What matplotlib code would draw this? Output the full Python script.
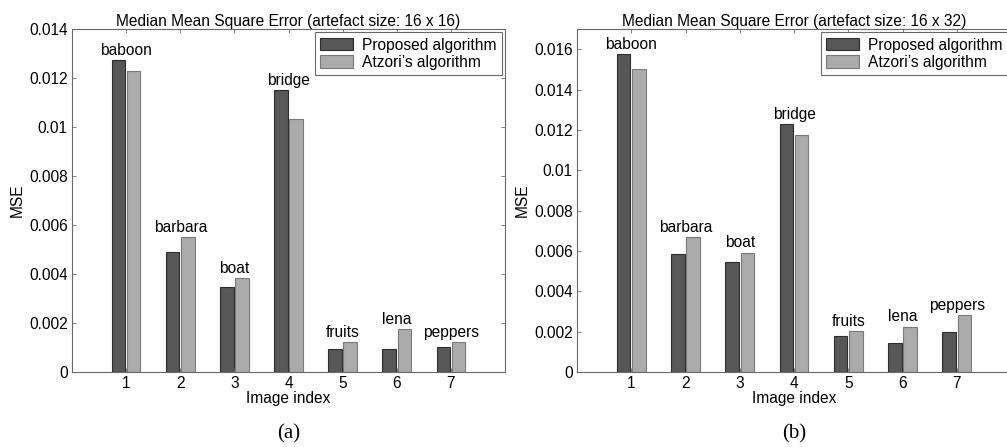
import matplotlib
matplotlib.use('Agg')
import matplotlib.pyplot as plt
import numpy as np

plt.rcParams['font.family'] = ['Liberation Sans', 'DejaVu Sans']

image_index = [1, 2, 3, 4, 5, 6, 7]
image_names = ['baboon', 'barbara', 'boat', 'bridge', 'fruits', 'lena', 'peppers']
series_names = ['Proposed algorithm', "Atzori\u2019s algorithm"]

# artefact size 16 x 16
proposed_16x16 = [0.01275, 0.00488, 0.00348, 0.01151, 0.00094, 0.00094, 0.00101]
atzori_16x16 = [0.01229, 0.00550, 0.00385, 0.01031, 0.00122, 0.00176, 0.00122]

# artefact size 16 x 32
proposed_16x32 = [0.01577, 0.00586, 0.00543, 0.01228, 0.00177, 0.00142, 0.00200]
atzori_16x32 = [0.01504, 0.00667, 0.00592, 0.01175, 0.00202, 0.00225, 0.00280]

y_ticks_a = [0, 0.002, 0.004, 0.006, 0.008, 0.01, 0.012, 0.014]
y_ticks_b = [0, 0.002, 0.004, 0.006, 0.008, 0.01, 0.012, 0.014, 0.016]

dark = '#575757'
light = '#ababab'
frame = '#6a6a6a'
fs = 11.2


def draw_panel(ax, proposed, atzori, yticks, ymax, size_text, panel_label):
    x = np.array(image_index)
    ax.bar(x - 0.14, proposed, width=0.25, color=dark, edgecolor='#2e2e2e',
           linewidth=0.8, label=series_names[0])
    ax.bar(x + 0.14, atzori, width=0.25, color=light, edgecolor='#7a7a7a',
           linewidth=0.8, label=series_names[1])
    for xi, p, a, name in zip(x, proposed, atzori, image_names):
        ax.annotate(name, (xi, max(p, a)), xytext=(0, 1.5), textcoords='offset points',
                    ha='center', va='bottom', fontsize=fs)
    ax.set_xlim(0, 8)
    ax.set_ylim(0, ymax)
    ax.set_xticks(image_index)
    ax.set_yticks(yticks)
    ax.set_yticklabels(['0' if t == 0 else ('%g' % t) for t in yticks])
    ax.tick_params(direction='in', length=3, width=0.6, color=frame,
                   top=True, right=True, labelsize=fs, pad=3)
    for s in ax.spines.values():
        s.set_color(frame)
        s.set_linewidth(0.8)
    ax.set_title('Median Mean Square Error (artefact size: %s)' % size_text,
                 fontsize=fs, pad=2)
    ax.set_xlabel('Image index', fontsize=fs, labelpad=0)
    ax.set_ylabel('MSE', fontsize=fs, labelpad=3)
    leg = ax.legend(loc='upper right', fontsize=fs, borderaxespad=0.2,
                    handlelength=2.1, handleheight=0.85, handletextpad=0.6,
                    labelspacing=0.15, borderpad=0.35, fancybox=False,
                    framealpha=1)
    leg.get_frame().set_edgecolor(frame)
    leg.get_frame().set_linewidth(0.8)
    ax.text(0.5, -0.18, panel_label, transform=ax.transAxes, ha='center',
            va='center', fontsize=15, family=['Liberation Serif', 'DejaVu Serif'])


fig = plt.figure(figsize=(10.07, 4.47), dpi=100)
ax_a = fig.add_axes([0.0715, 0.168, 0.43, 0.767])
ax_b = fig.add_axes([0.573, 0.168, 0.431, 0.767])

draw_panel(ax_a, proposed_16x16, atzori_16x16, y_ticks_a, 0.014, '16 x 16', '(a)')
draw_panel(ax_b, proposed_16x32, atzori_16x32, y_ticks_b, 0.017, '16 x 32', '(b)')

fig.savefig('out.png', dpi=100)
